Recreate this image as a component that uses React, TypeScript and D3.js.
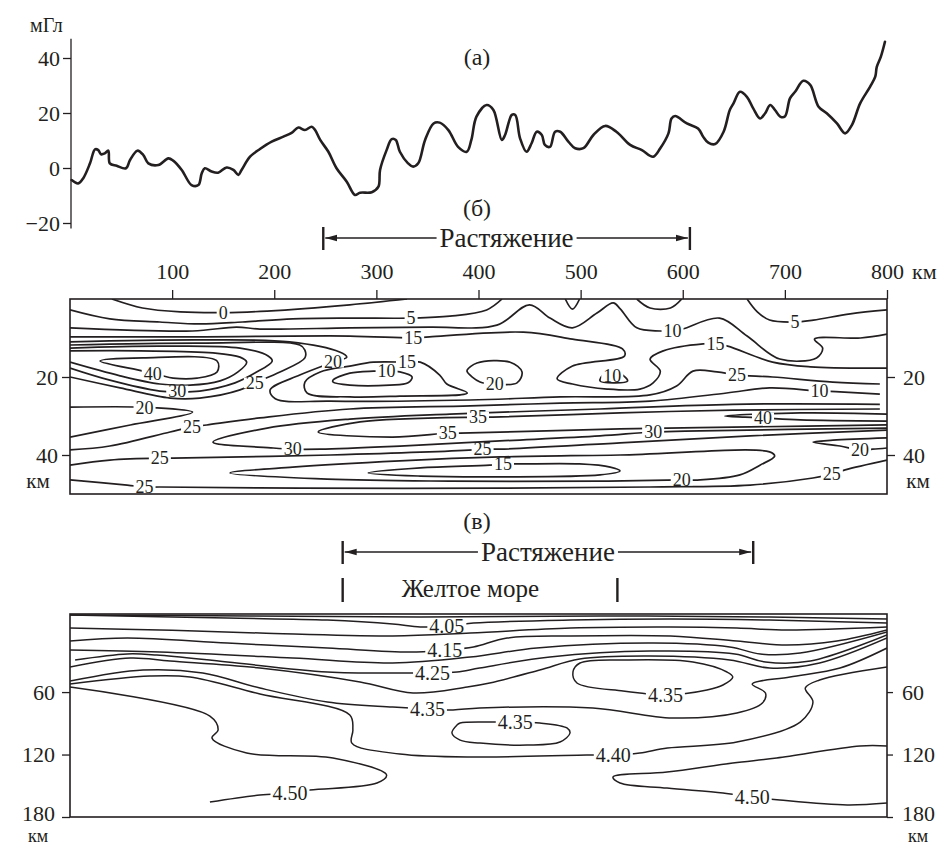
import React, { useEffect, useRef } from 'react';
import * as d3 from 'd3';

type Pt = [number, number];
type Label = [string, number, number];

const W = 946;
const H = 846;
const INK = '#231f20';
const SERIF = 'Liberation Serif, Tinos, serif';

// (а) gravity anomaly along the profile, km / mGal
const profileKm = [
  1.6, 8, 13, 19.6, 24.5, 27.7, 30.4, 34, 37.5, 39, 45.7, 54.8, 58.8, 66, 71.8, 76.7, 86.5, 96.3, 101, 109.4,
  119, 125.7, 129, 132, 138.7, 145, 153.4, 160, 164.8, 168, 176.3, 186, 197.5, 209, 217, 223.6, 230, 236.7, 240, 245,
  253, 261, 271, 279, 284, 295.5, 302, 303.6, 310, 315, 319, 323, 331, 336, 341, 347.7, 356, 362, 370.5, 380,
  388.5, 393, 398, 408, 414.6, 422.8, 426, 432.6, 436, 440.7, 447, 452, 457, 462, 465, 470, 475, 480, 488, 494.6,
  502.7, 512.5, 524, 535, 548.5, 560, 571, 578, 586, 589, 592.6, 604, 615, 620, 625, 631.7, 640, 646, 649.7, 656,
  662.8, 669, 675.8, 680.7, 685.6, 690.5, 695.4, 700, 705, 710, 718, 724.8, 733, 741, 751, 759, 765.6, 773.7, 783.5, 788.5,
  790, 794, 798,
];
const profileMgal = [
  -4.4, -5.6, -3.7, 1.7, 6.8, 6.5, 5, 5.3, 6.3, 1.7, 0.8, -0.1, 2.9, 6.3, 4.7, 1.7, 1.1, 3.5, 2.7, -0.7,
  -6.2, -6.2, -1.9, -0.1, -1.3, -1.7, 0.2, -0.7, -2.5, -0.7, 4.1, 6.9, 9.6, 11.4, 12.8, 14.7, 13.8, 15, 13.8, 10.2,
  5.9, -0.1, -5, -9.8, -9, -8.8, -6.8, -0.7, 6.5, 10.5, 10.2, 5.9, 1.7, 0.5, 1.7, 10.2, 16.2, 16.5, 13.8, 7.7,
  5.9, 10.2, 18.7, 22.9, 21.1, 10.2, 12, 19.3, 19.3, 10.8, 5.9, 9, 13.2, 12, 8.4, 7.7, 13.2, 13.2, 9.6, 7.2,
  7.2, 12, 15.3, 13.2, 8.4, 6.5, 4.1, 7.2, 12.6, 18, 18.9, 16.2, 14.4, 11.4, 9.2, 8.7, 13.2, 21, 23.5, 27.7,
  25.9, 21.7, 18, 19.9, 22.9, 21, 18.7, 18.7, 25.3, 27.7, 31.7, 30.2, 22.3, 19.9, 16.2, 12.6, 15.6, 23.5, 29.6, 33.2,
  36.8, 40.5, 45.9,
];
const mgalTicks = [-20, 0, 20, 40];

const kmTicks = [100, 200, 300, 400, 500, 600, 700, 800];

// extension zones and the Yellow Sea, km
const stretchCrust: Pt = [248, 607];
const stretchMantle: Pt = [267, 669];
const yellowSea: Pt = [267, 536];

// (б) crust section, [km, depth km]
const crustDepthTicks = [20, 40];
const crustLines: Pt[][] = [
  [[41, 0], [71, 2.3], [108, 3.3], [150, 3.5], [193, 3.1], [274, 1.5], [330, 0]],
  [[0, 2.8], [39, 5.1], [88, 5.9], [127, 6.4], [169, 5.9], [218, 5.1], [274, 4.9], [334, 4.9], [372, 4.4], [408, 2.8], [423, 0]],
  [[485, 0], [492, 2.6], [499, 0]],
  [[555, 0], [568, 2.3], [588, 2.3], [599, 0]],
  [[663, 0], [673, 3.3], [685, 5.4], [710, 5.9], [728, 5.4], [764, 3.8], [800, 2.8]],
  [[0, 7.4], [120, 8.2], [163, 7.2], [186, 7.7], [274, 7.4], [352, 7.2], [418, 6.7], [450, 1.5], [470, 4.9], [492, 7.4], [516, 3.6], [532, 1], [539, 2.6], [555, 7.4], [578, 8.2], [590, 8.2], [600, 7.7], [636, 4.9], [663, 9.5], [695, 15.4], [731, 15.1], [737, 12.6], [729, 10.3], [774, 10], [800, 9]],
  [[0, 9.7], [127, 9.7], [274, 9.5], [336, 10], [352, 9.7], [444, 8.5], [492, 10.3], [541, 12.8], [543, 14.6], [492, 17.2], [477, 20.5], [492, 21.8], [526, 23.1], [558, 23.1], [571, 21.5], [578, 18.5], [568, 15.4], [581, 13.3], [620, 11.5], [632, 11.5], [644, 12.1], [688, 16.2], [725, 17.4], [800, 17.7]],
  [[519, 21], [523, 19.2], [539, 19.2], [546, 21], [534, 21.5], [519, 21]],
  [[389, 18.2], [398.5, 16.4], [431, 16.2], [442.6, 18.7], [437.7, 21.5], [416, 21.8], [401.5, 21.3], [389, 18.7], [389, 18.2]],
  [[257.5, 20.8], [274, 19], [297, 18.5], [310, 18.5], [323, 18.7], [335, 20], [331, 21.5], [313, 22.1], [274, 22.1], [257.5, 21.3], [257.5, 20.8]],
  [[230, 21.3], [245, 18.7], [274, 17.2], [297, 16.2], [330, 16.2], [343, 16.2], [362, 19.5], [369, 21.8], [389, 24.1], [323, 24.9], [274, 25.1], [232, 24.1], [230, 21.3]],
  [[0, 11], [127, 10.5], [215, 11], [264, 13.6], [271, 14.9], [257.5, 16.2], [225, 19.5], [196, 23.3], [201, 25.6], [255, 26.2], [392, 25.9], [480, 25.1], [568, 24.6], [594, 22.3], [610, 18.5], [633.5, 18.7], [653, 19.5], [688, 20], [747, 21.3], [793, 21.8]],
  [[0, 38.7], [39, 37.7], [98, 34.1], [119.5, 32.8], [134, 32.3], [186, 30.5], [274, 28.2], [392, 27.4], [480, 26.7], [568, 26.2], [643, 24.1], [685, 22.8], [734, 23.6], [754, 23.8], [793, 24.4]],
  [[0, 27.7], [66, 27.7], [73, 27.9], [85, 27.9], [120, 29], [59, 32.3], [0, 35.4]],
  [[29.4, 15.9], [71.5, 15.1], [144, 15.9], [144, 18.7], [124.4, 20.3], [101, 20.3], [88, 19.5], [81, 19.2], [71.5, 18.5], [29.4, 15.9]],
  [[0, 13.3], [68.5, 13.3], [140, 13.8], [166.5, 14.9], [173, 16.2], [164.5, 18.7], [147, 21], [117.5, 22.1], [88, 21.8], [49, 19.7], [0, 16.2]],
  [[0, 12.6], [88, 12.1], [166.5, 12.6], [194, 14.6], [198, 15.9], [181, 19], [161.6, 21.5], [127, 23.6], [105, 23.8], [88, 23.6], [39, 20.8], [0, 17.7]],
  [[0, 11.8], [127, 11.3], [225, 11.8], [230, 13.1], [230, 15.1], [205.6, 18.7], [181, 21.5], [166.5, 23.3], [127, 25.4], [98, 25.4], [49, 22.8], [0, 20]],
  [[793, 28.2], [649, 28.5], [538.6, 29.2], [414, 30.3], [399.5, 30.3], [284, 31.5], [243, 34.1], [316, 35.4], [370, 34.4], [382, 34.4], [538.6, 33.3], [666, 32.8], [800, 32.3]],
  [[793, 27], [649, 27], [519, 28.2], [372, 29.5], [274, 30.8], [193, 33.1], [140, 36.7], [199, 38.2], [218, 38.5], [245, 38.5], [323, 37.7], [421, 36.4], [519, 35.1], [571, 34.1], [617, 33.8], [800, 33.1]],
  [[800, 29.5], [715, 29.2], [641, 30], [661, 30.3], [678.6, 30.5], [715, 31], [800, 31.3]],
  [[0, 42.6], [39, 41.3], [88, 40.8], [101, 40.8], [255, 40], [395, 38.7], [404, 38.5], [421, 38.5], [538.6, 36.9], [666, 35.1], [800, 33.6]],
  [[156.7, 44.6], [218, 43.1], [323, 41.5], [421, 40.5], [538.6, 40], [685, 39.2], [690, 40.3], [675.6, 42.6], [656, 45.1], [617, 46.4], [599, 46.4], [519, 46.7], [372, 46.7], [251.7, 46.2], [156.7, 44.6]],
  [[292, 44.6], [343, 43.3], [411, 42.6], [424, 42.3], [441, 42.3], [499, 42.3], [529, 43.1], [538.6, 44.1], [519, 45.1], [421, 45.6], [343, 45.4], [292, 44.6]],
  [[0, 46.4], [56, 47.7], [73, 48.2], [88, 48.2], [225, 48.5], [421, 48.5], [568, 48.2], [666, 47.7], [727.5, 45.9], [746, 44.9], [759, 43.8], [800, 41.3]],
  [[800, 35.6], [747, 36.2], [727.5, 36.7], [754, 37.7], [773.6, 38.7], [786, 38.5], [800, 38.2]],
];
const crustLabels: Label[] = [
  ['0', 150, 3.5], ['5', 334, 4.9], ['5', 710, 5.9], ['10', 590, 8.2], ['15', 336, 10], ['15', 632, 11.5],
  ['20', 257.5, 16.2], ['15', 330, 16.2], ['10', 310, 18.5], ['40', 81, 19.2], ['20', 416, 21.8], ['10', 531, 19.7],
  ['25', 653, 19.5], ['10', 734, 23.6], ['30', 105, 23.6], ['25', 181, 21.5], ['20', 73, 27.9], ['25', 119.5, 32.8],
  ['35', 399.5, 30.3], ['35', 370, 34.4], ['40', 678.6, 30.5], ['30', 218, 38.5], ['30', 571, 34.1], ['25', 88, 40.8],
  ['25', 404, 38.5], ['20', 773.6, 38.7], ['15', 424, 42.3], ['20', 599, 46.4], ['25', 73, 48.2], ['25', 746, 44.9],
];

// (в) upper mantle section, [km, depth km]
const mantleDepthTicks = [60, 120, 180];
const mantleLines: Pt[][] = [
  [[0, -14], [176, -13.1], [343, -12.1], [519, -13.1], [685, -12.1], [800, -10.2]],
  [[0, -14], [154, -11.1], [252, -9.2], [316, -5.4], [343, -2.5], [369, -3.5], [395, -6.3], [490, -9.2], [588, -10.2], [685, -9.2], [800, -6.3]],
  [[0, -1.5], [88, 0.4], [186, 3.3], [316, 6.1], [392, 3.3], [490, -1.5], [588, -2.5], [653, -1.5], [702, 0.4], [800, -2.5]],
  [[0, 11], [56, 8.1], [154, 12.9], [252, 17.7], [333, 21.5], [367, 19.6], [395, 16.7], [428, 8.1], [490, 6.1], [588, 6.1], [653, 11], [702, 14.8], [751, 11], [800, 0.4]],
  [[0, 19.6], [88, 21.5], [218, 27.3], [316, 32.1], [392, 26.3], [457, 17.7], [571, 12.9], [646, 16.7], [676, 23.4], [715, 22.5], [800, 2.3]],
  [[5, 29.2], [56, 23.4], [85, 24.4], [154, 31.1], [252, 40.7], [333, 41.7], [355, 41.7], [379, 40.7], [401, 36.9], [470, 26.3], [568, 20.6], [651, 23.4], [681, 31.1], [725, 30.2], [800, 5.2]],
  [[0, 35.9], [59, 27.3], [98, 30.2], [186, 36.9], [284, 50.3], [336, 60.9], [389, 55.1], [411, 51.3], [460, 38.8], [499, 28.2], [568, 25.4], [646, 29.2], [685, 36.9], [734, 32.1], [800, 8.1]],
  [[0, 49.4], [71.5, 38.8], [130, 41.7], [186, 56.1], [252, 69.5], [316, 74.4], [350, 76.3], [375, 77.2], [401, 75.3], [512, 75.3], [590, 84.9], [653, 80.1], [678, 70.5], [681, 60.9], [668, 52.3], [705, 45.5], [754, 36.9], [800, 17.7]],
  [[0, 52.3], [78, 44.6], [117.5, 45.5], [186, 61.9], [274, 82], [277, 96.4], [276, 109], [323, 119.5], [401, 122.4], [506, 120.5], [532, 120.5], [558, 118.5], [585, 113.7], [653, 108], [715, 88.8], [727.5, 69.5], [720, 56.1], [734, 48.4], [800, 35.9]],
  [[0, 55.1], [137, 83], [145, 96.4], [139, 104.1], [173, 118.5], [257.5, 123.3], [310, 139.7], [300.6, 147.4], [235, 154.1], [215.4, 157], [186, 158.9], [137, 165.6]],
  [[492.5, 40.7], [499.4, 32.1], [545.4, 29.2], [610, 31.1], [643.3, 40.7], [649, 45.5], [639.4, 53.2], [623.7, 58], [583, 62.8], [558, 60.9], [541.5, 59], [496.4, 51.3], [492.5, 40.7]],
  [[382, 89.7], [414, 88.8], [435.7, 88.8], [460, 89.7], [486.6, 94.5], [489.6, 99.3], [479.8, 108], [447.5, 110.9], [401.5, 109], [382, 106.1], [374, 99.3], [379, 91.6], [382, 89.7]],
  [[800, 111.8], [773.6, 111.8], [692, 123.3], [649, 128.1], [584.6, 136.8], [531.7, 141.6], [538.6, 147.4], [584.6, 152.2], [639.4, 157], [668, 160.8], [695, 163.7], [761, 168.5], [800, 166.6]],
];
const mantleLabels: Label[] = [
  ['4.05', 369, -3.5], ['4.15', 367, 19.6], ['4.25', 355, 41.7], ['4.35', 350, 76.3], ['4.35', 583, 62.8],
  ['4.35', 436, 88.8], ['4.40', 532, 120.5], ['4.50', 215.4, 157], ['4.50', 668, 160.8],
];

const xK = d3.scaleLinear().domain([0, 800]).range([70, 887]);
const yA = d3.scaleLinear().domain([-20, 40]).range([223, 58]);
const yB = d3.scaleLinear().domain([0, 50]).range([299, 494]);
const yC = d3.scaleLinear().domain([-15, 180]).range([614, 817]);

type Sel = d3.Selection<SVGGElement, unknown, null, undefined>;

function styleAxis(g: Sel, size: number) {
  g.attr('font-family', SERIF);
  g.select('.domain').remove();
  g.selectAll('.tick line').attr('stroke', INK).attr('stroke-width', 1.3);
  g.selectAll('.tick text').attr('font-family', SERIF).attr('font-size', size).attr('fill', INK);
}

function drawContours(g: Sel, lines: Pt[][], labels: Label[], y: d3.ScaleLinear<number, number>, size: number, width: number) {
  const open = d3.line<Pt>().x((d) => xK(d[0])).y((d) => y(d[1])).curve(d3.curveCatmullRom.alpha(0.5));
  const closed = d3.line<Pt>().x((d) => xK(d[0])).y((d) => y(d[1])).curve(d3.curveCatmullRomClosed.alpha(0.5));
  g.selectAll('path.iso')
    .data(lines)
    .join('path')
    .attr('class', 'iso')
    .attr('d', (d) => {
      const a = d[0], b = d[d.length - 1];
      return a[0] === b[0] && a[1] === b[1] ? closed(d.slice(0, -1)) : open(d);
    })
    .attr('fill', 'none')
    .attr('stroke', INK)
    .attr('stroke-width', width)
    .attr('stroke-linejoin', 'round');

  // labels sit in a small white gap cut out of their line
  const lg = g.append('g');
  labels.forEach((d) => {
    const cx = xK(d[1]), cy = y(d[2]);
    const t = lg.append('text')
      .attr('x', cx).attr('y', cy).attr('dy', '0.35em')
      .attr('text-anchor', 'middle')
      .attr('font-family', SERIF).attr('font-size', size).attr('fill', INK)
      .text(d[0]);
    const w = (t.node() as SVGTextElement).getComputedTextLength();
    lg.insert('rect', () => t.node())
      .attr('x', cx - w / 2 - 2).attr('y', cy - size * 0.3)
      .attr('width', w + 4).attr('height', size * 0.6)
      .attr('fill', '#fff');
  });
}

// bar — arrow — text — arrow — bar
function drawSpan(svg: d3.Selection<SVGSVGElement, unknown, null, undefined>, span: Pt, yMid: number, label: string) {
  const x0 = xK(span[0]), x1 = xK(span[1]);
  const g = svg.append('g');
  [x0, x1].forEach((x) =>
    g.append('line').attr('x1', x).attr('x2', x).attr('y1', yMid - 11).attr('y2', yMid + 12)
      .attr('stroke', INK).attr('stroke-width', 2.4));
  const cx = (x0 + x1) / 2;
  const t = g.append('text').attr('x', cx).attr('y', yMid + 9).attr('text-anchor', 'middle')
    .attr('font-family', SERIF).attr('font-size', 27).attr('fill', INK).text(label);
  const w = (t.node() as SVGTextElement).getComputedTextLength();
  g.append('line').attr('x1', cx - w / 2 - 3).attr('x2', x0 + 2).attr('y1', yMid).attr('y2', yMid)
    .attr('stroke', INK).attr('stroke-width', 1.3).attr('marker-end', 'url(#arr)');
  g.append('line').attr('x1', cx + w / 2 + 3).attr('x2', x1 - 2).attr('y1', yMid).attr('y2', yMid)
    .attr('stroke', INK).attr('stroke-width', 1.3).attr('marker-end', 'url(#arr)');
}

function draw(svg: d3.Selection<SVGSVGElement, unknown, null, undefined>) {
  svg.append('rect').attr('width', W).attr('height', H).attr('fill', '#fff');
  const defs = svg.append('defs');
  defs.append('marker').attr('id', 'arr').attr('viewBox', '0 0 12 8').attr('refX', 12).attr('refY', 4)
    .attr('markerWidth', 12).attr('markerHeight', 8).attr('markerUnits', 'userSpaceOnUse').attr('orient', 'auto')
    .append('path').attr('d', 'M0,0.8L12,4L0,7.2Z').attr('fill', INK);
  defs.append('clipPath').attr('id', 'clipB').append('rect')
    .attr('x', xK(0)).attr('y', yB(0)).attr('width', xK(800) - xK(0)).attr('height', yB(50) - yB(0));
  defs.append('clipPath').attr('id', 'clipC').append('rect')
    .attr('x', xK(0)).attr('y', yC(-15)).attr('width', xK(800) - xK(0)).attr('height', yC(180) - yC(-15));

  const txt = (x: number, y: number, s: string, size: number, anchor = 'middle') =>
    svg.append('text').attr('x', x).attr('y', y).attr('text-anchor', anchor)
      .attr('font-family', SERIF).attr('font-size', size).attr('fill', INK).text(s);

  // ---- (а) gravity profile
  const axA = svg.append('g').attr('transform', `translate(${xK(0) + 1},0)`)
    .call(d3.axisLeft(yA).tickValues(mgalTicks).tickSize(8).tickPadding(3).tickFormat(d3.format('d')));
  styleAxis(axA, 22);
  axA.append('line').attr('y1', yA(47)).attr('y2', yA(-22)).attr('stroke', INK).attr('stroke-width', 1.3);
  txt(30, 32, 'мГл', 20, 'start');

  const prof = d3.line<number>()
    .x((_, i) => xK(profileKm[i]))
    .y((d) => yA(d))
    .curve(d3.curveCatmullRom.alpha(0.5));
  svg.append('path').attr('d', prof(profileMgal)).attr('fill', 'none').attr('stroke', INK)
    .attr('stroke-width', 2.6).attr('stroke-linejoin', 'round').attr('stroke-linecap', 'round');

  txt(477, 65, '(а)', 24);
  txt(477, 216, '(б)', 24);
  drawSpan(svg, stretchCrust, 238, 'Растяжение');

  // ---- (б) crust section
  const axTop = svg.append('g').attr('transform', `translate(0,${yB(0)})`)
    .call(d3.axisTop(xK).tickValues(kmTicks).tickSize(9).tickPadding(11).tickFormat(d3.format('d')));
  styleAxis(axTop, 22);
  txt(xK(800) + 25, yB(0) - 20, 'км', 22, 'start');

  const axBL = svg.append('g').attr('transform', `translate(${xK(0)},0)`)
    .call(d3.axisLeft(yB).tickValues(crustDepthTicks).tickSize(8).tickPadding(4));
  styleAxis(axBL, 22);
  const axBR = svg.append('g').attr('transform', `translate(${xK(800)},0)`)
    .call(d3.axisRight(yB).tickValues(crustDepthTicks).tickSize(8).tickPadding(8));
  styleAxis(axBR, 22);
  txt(38, yB(50) - 6, 'км', 21);
  txt(918, yB(50) - 6, 'км', 21);

  const gB = svg.append('g').attr('clip-path', 'url(#clipB)');
  drawContours(gB, crustLines, crustLabels, yB, 18, 1.7);
  svg.append('rect').attr('x', xK(0)).attr('y', yB(0)).attr('width', xK(800) - xK(0)).attr('height', yB(50) - yB(0))
    .attr('fill', 'none').attr('stroke', INK).attr('stroke-width', 1.6);

  // ---- (в) upper mantle section
  txt(477, 529, '(в)', 24);
  drawSpan(svg, stretchMantle, 552, 'Растяжение');
  const sea = svg.append('g');
  yellowSea.forEach((k) =>
    sea.append('line').attr('x1', xK(k)).attr('x2', xK(k)).attr('y1', 578).attr('y2', 602)
      .attr('stroke', INK).attr('stroke-width', 2.4));
  txt(xK(yellowSea[0]) + 59, 597, 'Желтое море', 25, 'start');

  const axCL = svg.append('g').attr('transform', `translate(${xK(0)},0)`)
    .call(d3.axisLeft(yC).tickValues(mantleDepthTicks).tickSize(8).tickPadding(7));
  styleAxis(axCL, 22);
  const axCR = svg.append('g').attr('transform', `translate(${xK(800)},0)`)
    .call(d3.axisRight(yC).tickValues(mantleDepthTicks).tickSize(6).tickPadding(9));
  styleAxis(axCR, 22);
  // the bottom label sits a little higher so the unit fits below it
  [axCL, axCR].forEach((ax) =>
    ax.selectAll<SVGTextElement, number>('.tick text').filter((d) => d === 180).attr('dy', '0.16em'));
  txt(38, yC(180) + 25, 'км', 18);
  txt(918, yC(180) + 25, 'км', 18);

  const gC = svg.append('g').attr('clip-path', 'url(#clipC)');
  drawContours(gC, mantleLines, mantleLabels, yC, 20, 1.5);
  svg.append('rect').attr('x', xK(0)).attr('y', yC(-15)).attr('width', xK(800) - xK(0)).attr('height', yC(180) - yC(-15))
    .attr('fill', 'none').attr('stroke', INK).attr('stroke-width', 1.6);
}

export default function App() {
  const ref = useRef<SVGSVGElement>(null);
  useEffect(() => {
    if (!ref.current) return;
    const svg = d3.select(ref.current);
    svg.selectAll('*').remove();
    draw(svg);
  }, []);
  return (
    <svg ref={ref} width={W} height={H}
      style={{ position: 'absolute', left: 0, top: 0, display: 'block', background: '#fff', fontFamily: SERIF }} />
  );
}
